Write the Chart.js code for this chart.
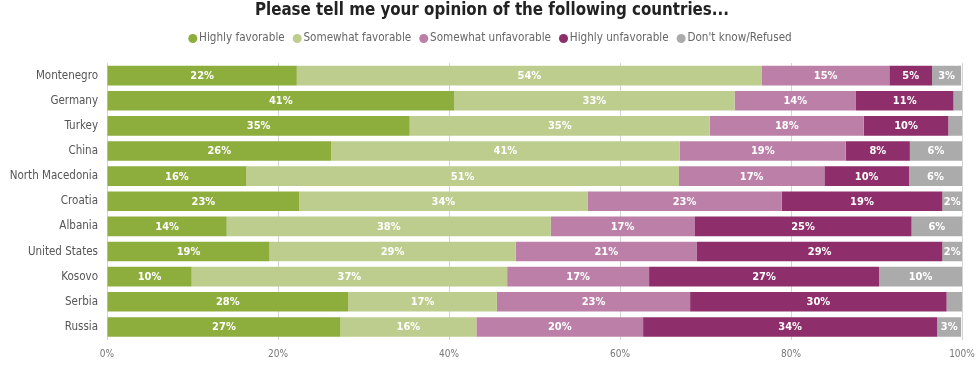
<!DOCTYPE html>
<html>
<head>
<meta charset="utf-8">
<script src="https://cdn.jsdelivr.net/npm/chart.js@4"></script>
<style>
  html, body { margin: 0; padding: 0; background: #fff; }
  #wrap { width: 980px; height: 372px; }
</style>
</head>
<body>
<div id="wrap"><canvas id="myChart" width="980" height="372"></canvas></div>
<script>
// data
const countries = ['Montenegro', 'Germany', 'Turkey', 'China', 'North Macedonia', 'Croatia',
    'Albania', 'United States', 'Kosovo', 'Serbia', 'Russia'];
const highlyFav   = [22.2, 40.6, 35.4, 26.2, 16.3, 22.5, 14.0, 19.0, 9.9, 28.2, 27.3];
const somewhatFav = [54.4, 32.8, 35.1, 40.8, 50.6, 33.7, 37.9, 28.8, 36.9, 17.4, 15.9];
const somewhatUnf = [14.9, 14.2, 18.0, 19.4, 17.0, 22.7, 16.8, 21.2, 16.6, 22.6, 19.5];
const highlyUnf   = [5.0, 11.4, 9.9, 7.5, 9.9, 18.8, 25.4, 28.7, 26.9, 30.0, 34.4];
const dontKnow    = [3.4, 1.0, 1.6, 6.1, 6.2, 2.3, 5.9, 2.3, 9.7, 1.8, 2.8];
const xTicks = [0, 20, 40, 60, 80, 100];

const FONT = '"DejaVu Sans Condensed", "DejaVu Sans", sans-serif';

// white value labels in the middle of each segment
const segmentLabels = {
    id: 'segmentLabels',
    afterDatasetsDraw(chart) {
        const ctx = chart.ctx;
        ctx.save();
        ctx.font = 'bold 11px ' + FONT;
        ctx.fillStyle = '#ffffff';
        ctx.textAlign = 'center';
        ctx.textBaseline = 'middle';
        chart.data.datasets.forEach((ds, i) => {
            chart.getDatasetMeta(i).data.forEach((bar, j) => {
                const v = ds.data[j];
                if (v < 2) return;
                const p = bar.getCenterPoint();
                ctx.fillText(Math.round(v) + '%', p.x, p.y + 0.5);
            });
        });
        ctx.restore();
    }
};

const ctx = document.getElementById('myChart').getContext('2d');
const opinionChart = new Chart(ctx, {
    type: 'bar',
    data: {
        labels: countries,
        datasets: [
            { label: 'Highly favorable', data: highlyFav, backgroundColor: '#8dad3d' },
            { label: 'Somewhat favorable', data: somewhatFav, backgroundColor: '#bccd8d' },
            { label: 'Somewhat unfavorable', data: somewhatUnf, backgroundColor: '#bc80a8' },
            { label: 'Highly unfavorable', data: highlyUnf, backgroundColor: '#8e2e6b' },
            { label: "Don't know/Refused", data: dontKnow, backgroundColor: '#ababab' }
        ]
    },
    options: {
        indexAxis: 'y',
        responsive: false,
        animation: false,
        barPercentage: 0.78,
        categoryPercentage: 1,
        layout: { padding: { left: 6, right: 2, top: 0, bottom: 0 } },
        plugins: {
            title: {
                display: true,
                text: 'Please tell me your opinion of the following countries...',
                color: '#222',
                font: { family: FONT, size: 16.8, weight: 'bold' },
                padding: { top: 0.5, bottom: 0 }
            },
            legend: {
                position: 'top',
                labels: {
                    usePointStyle: true,
                    pointStyle: 'circle',
                    boxWidth: 1,
                    boxHeight: 6.4,
                    padding: 12,
                    color: '#666',
                    font: { family: FONT, size: 11.6 }
                }
            },
            tooltip: { enabled: false }
        },
        scales: {
            x: {
                stacked: true,
                min: 0,
                max: 100,
                afterBuildTicks: (scale) => { scale.ticks = xTicks.map(v => ({ value: v })); },
                afterFit: (scale) => {
                    scale.height = 32.5;
                    scale.paddingRight = 18;
                    scale.paddingLeft = 0;
                },
                border: { display: false },
                grid: { color: '#d4d4d4', borderDash: [1, 3], drawTicks: false },
                ticks: {
                    padding: 9,
                    color: '#777',
                    font: { family: FONT, size: 10 },
                    callback: (value) => value + '%'
                }
            },
            // empty spacer between legend and bars
            xTop: {
                type: 'linear',
                position: 'top',
                afterFit: (scale) => { scale.height = 8.8; },
                border: { display: false },
                grid: { display: false },
                ticks: { display: false }
            },
            y: {
                stacked: true,
                afterFit: (scale) => { scale.width = 101; },
                border: { display: false },
                grid: { display: false, drawTicks: false },
                ticks: {
                    padding: 9,
                    color: '#555',
                    font: { family: FONT, size: 11.5 }
                }
            }
        }
    },
    plugins: [segmentLabels]
});
</script>
</body>
</html>
